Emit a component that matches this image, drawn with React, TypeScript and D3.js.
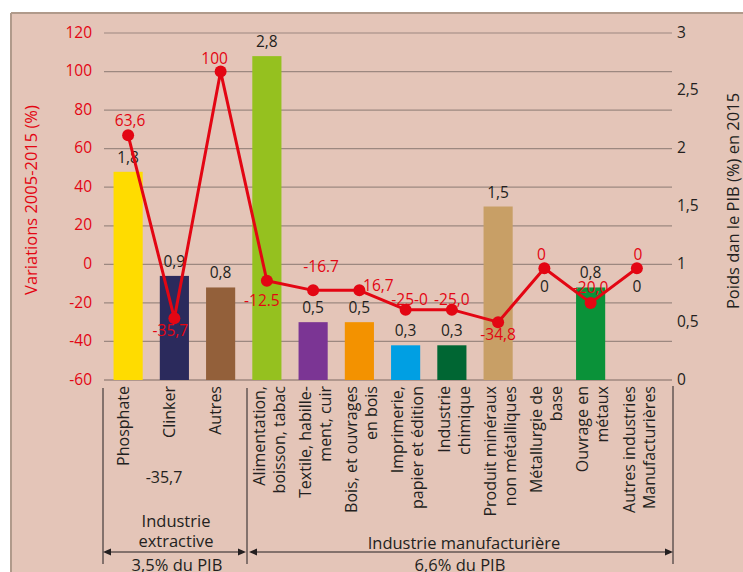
import React from "react";
import * as d3 from "d3";

// ---------- data ----------
const categories = [
  "Phosphate", "Clinker", "Autres", "Alimentation", "Textile", "Bois",
  "Imprimerie", "Chimique", "Produit", "Metallurgie", "Ouvrage", "AutresInd",
];
const categoryLines: string[][] = [
  ["Phosphate"],
  ["Clinker"],
  ["Autres"],
  ["Alimentation,", "boisson, tabac"],
  ["Textile, habille-", "ment, cuir"],
  ["Bois, et ouvrages", "en bois"],
  ["Imprimerie,", "papier et édition"],
  ["Industrie", "chimique"],
  ["Produit minéraux", "non métalliques"],
  ["Métallurgie de", "base"],
  ["Ouvrage en", "métaux"],
  ["Autres industries", "Manufacturières"],
];
// Poids dans le PIB (%) en 2015 (right axis, bars)
const barValues = [1.8, 0.9, 0.8, 2.8, 0.5, 0.5, 0.3, 0.3, 1.5, 0, 0.8, 0];
const barLabels = ["1,8", "0,9", "0,8", "2,8", "0,5", "0,5", "0,3", "0,3", "1,5", "0", "0,8", "0"];
const barColors = [
  "#ffdc00", "#2b2a5c", "#93603a", "#95c11f", "#7b3594", "#f39200",
  "#009fe3", "#006633", "#c89f66", "#cccccc", "#0a9239", "#cccccc",
];
// Variations 2005-2015 (%) (left axis, line) — as plotted in the picture
const lineValues = [67, -28, 100, -8.5, -13.5, -13.5, -23.5, -23.5, -30, -2, -20, -2];
const lineLabels = ["63,6", "-35,7", "100", "-12.5", "-16.7", "16,7", "-25-0", "-25,0", "-34,8", "0", "-20,0", "0"];
const leftTicks = [-60, -40, -20, 0, 20, 40, 60, 80, 100, 120];
const rightTicks = [0, 0.5, 1, 1.5, 2, 2.5, 3];

// ---------- layout ----------
const W = 743;
const H = 572;
const FONT = "'Open Sans', sans-serif";
const RED = "#e30613";
const INK = "#231f20";
const lineLabelOffsets: [number, number][] = [
  [2, -9], [-4, 18], [-6, -8], [-5, 25], [8, -18], [19, 1],
  [4, -5], [0, -5], [0, 18], [-3, -8], [0, -10], [1, -8],
];

export default function App() {
  const yL = d3.scaleLinear().domain([-60, 120]).range([380, 33]);
  const yR = d3.scaleLinear().domain([0, 3]).range([380, 33]);
  const x = d3
    .scaleBand<string>()
    .domain(categories)
    .range([105, 660])
    .paddingInner(0.37)
    .paddingOuter(0.185);
  const cx = (i: number) => (x(categories[i]) as number) + x.bandwidth() / 2;
  const fmtR = (v: number) => String(v).replace(".", ",");

  const linePath = d3
    .line<number>()
    .x((_, i) => cx(i))
    .y((v) => yL(v))(lineValues) as string;

  const arrow = (x0: number, x1: number, y: number) => {
    const a = 8, h = 3.5;
    return (
      <g>
        <line x1={x0 + 2} x2={x1 - 2} y1={y} y2={y} stroke={INK} strokeWidth={1} />
        <path d={`M${x0},${y} L${x0 + a},${y - h} L${x0 + a},${y + h} Z`} fill={INK} />
        <path d={`M${x1},${y} L${x1 - a},${y - h} L${x1 - a},${y + h} Z`} fill={INK} />
      </g>
    );
  };

  return (
    <svg
      width={W}
      height={H}
      style={{ position: "absolute", left: 0, top: 0, background: "#ffffff" }}
      fontFamily={FONT}
    >
      <rect x={11} y={13} width={W} height={H} fill="#e4c5b8" />
      <line x1={11} x2={W} y1={13} y2={13} stroke="#b09a8b" strokeWidth={2} />
      <line x1={11} x2={11} y1={13} y2={H} stroke="#b09a8b" strokeWidth={2} />

      {/* gridlines */}
      {leftTicks.map((t) => (
        <line
          key={t}
          x1={104}
          x2={672}
          y1={yL(t)}
          y2={yL(t)}
          stroke={t === -60 ? "#7d6b63" : "#9c8880"}
          strokeWidth={1.2}
        />
      ))}

      {/* left ticks */}
      {leftTicks.map((t) => (
        <text key={t} x={92} y={yL(t)} dy="0.3em" textAnchor="end" fontSize={15.5} fill={RED}>
          {t}
        </text>
      ))}
      {/* right ticks */}
      {rightTicks.map((t) => (
        <text key={t} x={677} y={yR(t)} dy="0.3em" textAnchor="start" fontSize={15.5} fill={INK}>
          {fmtR(t)}
        </text>
      ))}

      <text
        transform={`translate(31,200) rotate(-90)`}
        textAnchor="middle"
        dy="0.35em"
        fontSize={16.5}
        fill={RED}
      >
        Variations 2005-2015 (%)
      </text>
      <text
        transform={`translate(733,201) rotate(-90)`}
        textAnchor="middle"
        dy="0.35em"
        fontSize={16.5}
        fill={INK}
      >
        Poids dan le PIB (%) en 2015
      </text>

      {/* bars */}
      {barValues.map((v, i) =>
        v > 0 ? (
          <rect
            key={i}
            x={x(categories[i])}
            y={yR(v)}
            width={x.bandwidth()}
            height={yR(0) - yR(v)}
            fill={barColors[i]}
          />
        ) : null
      )}

      {/* bar labels */}
      {barValues.map((v, i) => (
        <text
          key={i}
          x={cx(i)}
          y={v > 0 ? yR(v) - 9 : yL(lineValues[i]) + 24}
          textAnchor="middle"
          fontSize={15.5}
          fill={INK}
        >
          {barLabels[i]}
        </text>
      ))}

      {/* line */}
      <path d={linePath} fill="none" stroke={RED} strokeWidth={3} strokeLinejoin="round" />
      {lineValues.map((v, i) => (
        <circle key={i} cx={cx(i)} cy={yL(v)} r={6} fill={RED} />
      ))}
      {lineValues.map((v, i) => (
        <text
          key={i}
          x={cx(i) + lineLabelOffsets[i][0]}
          y={yL(v) + lineLabelOffsets[i][1]}
          textAnchor="middle"
          fontSize={15.5}
          fill={RED}
        >
          {lineLabels[i]}
        </text>
      ))}

      {/* category labels */}
      {categoryLines.map((lines, i) =>
        lines.map((s, j) => {
          const off = lines.length === 1 ? -5 : j === 0 ? -8 : 12;
          return (
            <text
              key={`${i}-${j}`}
              transform={`translate(${cx(i) + off},386) rotate(-90)`}
              textAnchor="end"
              dy="0.36em"
              fontSize={16}
              fill={INK}
            >
              {s}
            </text>
          );
        })
      )}

      {/* bottom brackets */}
      <line x1={103} x2={103} y1={388} y2={564} stroke={INK} strokeWidth={1} />
      <line x1={247} x2={247} y1={388} y2={564} stroke={INK} strokeWidth={1} />
      <line x1={673} x2={673} y1={386} y2={564} stroke={INK} strokeWidth={1} />
      {arrow(103, 246, 552)}
      {arrow(249, 673, 552)}

      <text x={164} y={483} textAnchor="middle" fontSize={16} fill={INK}>-35,7</text>
      <text x={176} y={527} textAnchor="middle" fontSize={16.5} fill={INK}>Industrie</text>
      <text x={176} y={547} textAnchor="middle" fontSize={16.5} fill={INK}>extractive</text>
      <text x={177} y={571} textAnchor="middle" fontSize={16.5} fill={INK}>3,5% du PIB</text>
      <text x={464} y={549} textAnchor="middle" fontSize={16.5} fill={INK}>Industrie manufacturière</text>
      <text x={460} y={571} textAnchor="middle" fontSize={16.5} fill={INK}>6,6% du PIB</text>
    </svg>
  );
}
